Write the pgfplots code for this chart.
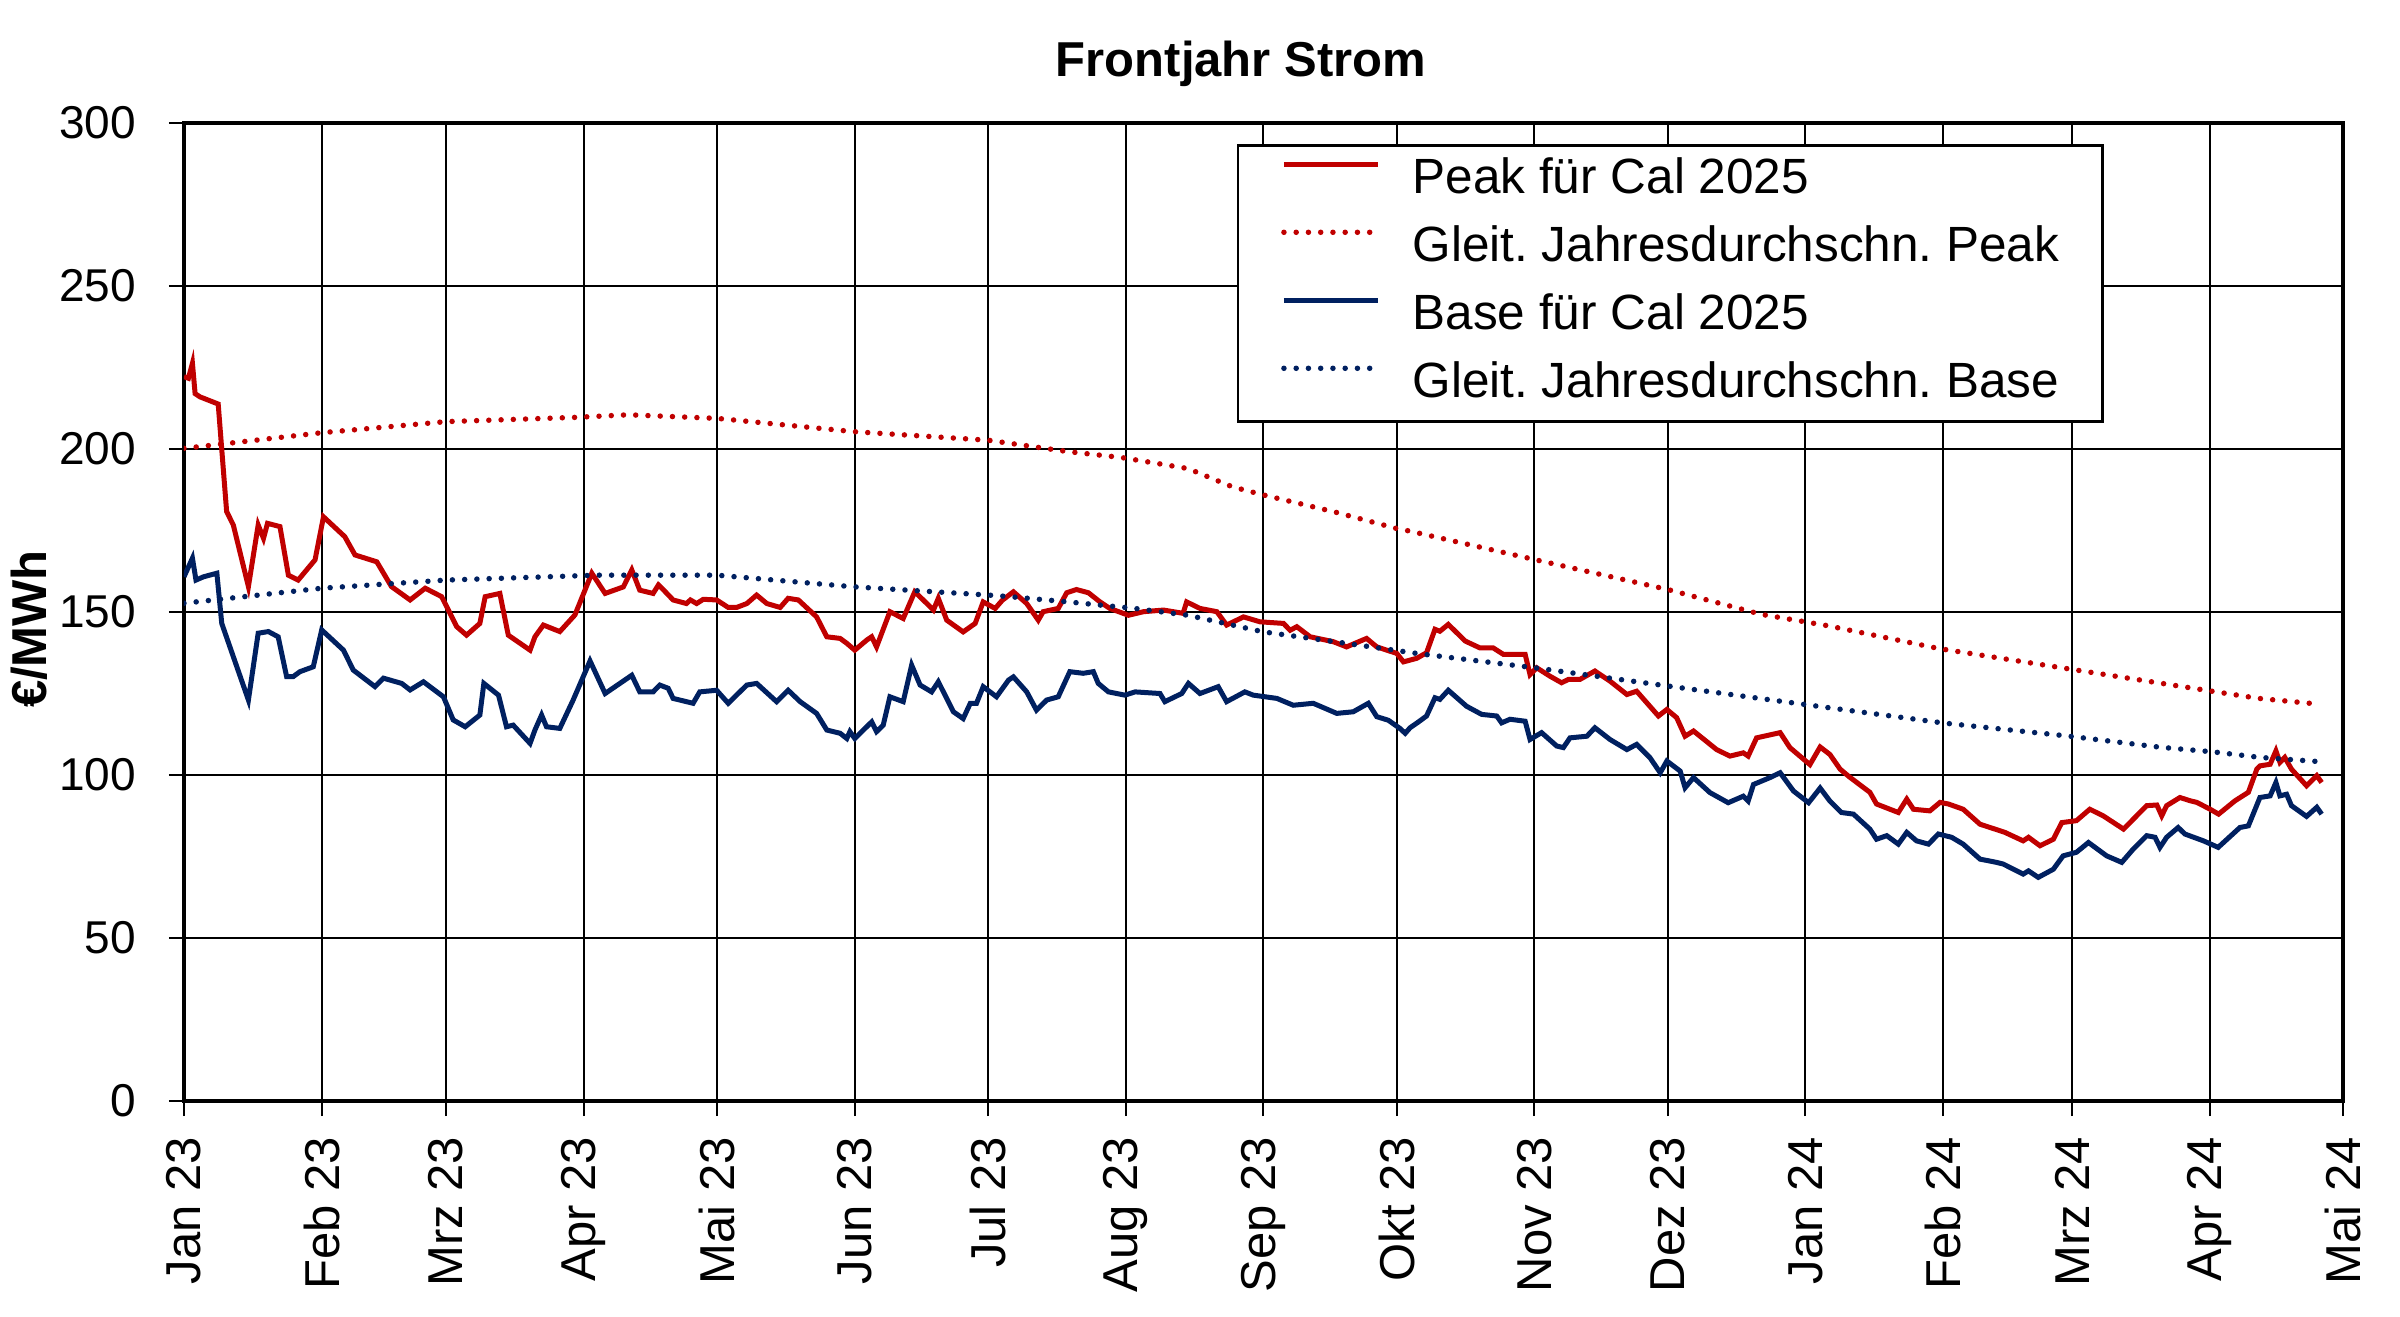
\documentclass[border=0pt]{standalone}
\usepackage{fontspec}
\setmainfont{Liberation Sans}
\usepackage{pgfplots}
\usepackage{pgfplotstable}
\pgfplotsset{compat=1.18}
\definecolor{peakred}{RGB}{192,0,0}
\definecolor{baseblue}{RGB}{0,32,96}
\frenchspacing

\pgfplotstableread{
d v
0 222.2
1 221.7
1.9 226.3
2.5 217
3.6 216
7.7 213.8
9.6 180.8
11.1 176.7
14.5 157.8
16.7 176.7
17.9 172.6
18.8 177.2
21.6 176.2
23.5 161.3
25.7 159.8
29.5 166
31.4 179.2
36.2 173.1
38.5 167.5
43.4 165.4
46.7 157.8
50.9 153.7
54.3 157.3
58 154.7
61.4 145.5
63.6 142.9
66.6 146.5
67.8 154.7
71.1 155.7
73 142.9
77.9 138.3
79 142.4
80.9 146
84.6 144
88 149.1
91.8 161.9
94.8 155.7
98.9 157.7
100.8 162.9
102.6 156.7
105.6 155.7
106.8 158.3
108 156.7
110.1 153.7
113.1 152.6
114 153.7
115.4 152.6
116.9 153.9
119.9 153.7
122.5 151.4
124.4 151.4
126.7 152.6
128.9 155.2
131.2 152.6
134.2 151.4
136 154.2
138.3 153.7
142.4 148.5
144.7 142.4
147.7 141.9
149.2 140.4
151 138.3
153.7 141.4
154.8 142.4
155.9 139.3
158.9 150.1
161.9 148
164.5 156.2
166.4 153.7
168.7 150.6
169.8 154.2
171.7 147.5
175.4 143.9
178.1 146.5
179.9 153.1
182.6 151.1
184.2 153.6
186.7 156.2
189.7 152.6
192.3 147.5
193.4 150.1
196.8 151.1
198.7 155.9
200.9 156.9
203.6 155.9
206.2 153.1
208.4 151.1
212.6 149
216 150.1
220.5 150.6
224.9 149.6
225.7 153.1
228.7 151.1
232.5 150.1
234.7 146
238.5 148.5
242.2 147
247.5 146.5
249 144.4
250.5 145.5
253.5 142.4
258.7 140.9
261.7 139.3
266.2 141.9
268.5 139.3
273 137.3
274.5 134.7
277.5 135.8
279.7 137.5
281.6 144.7
282.7 144.1
284.6 146.2
288.4 141.1
291.7 139
294.7 139
297 137
301.9 137
303 130.8
304.5 132.9
307.5 130.3
310.1 128.3
311.6 129.3
314.2 129.3
317.6 131.9
321 128.8
324.8 124.7
327 125.7
331.9 118.1
333.8 120.1
336 117.6
337.9 111.9
339.8 113.5
345 107.8
348 105.8
351 106.8
352.1 105.8
354 111.4
359.3 113
361.5 108.4
366 103.2
368.3 108.6
370.5 106.3
372.8 101.8
375 99.3
379.5 94.7
381 91.1
385.9 88.5
387.8 92.6
389.3 89.5
393 89
395.3 91.6
397.2 91.1
400.5 89.5
404.3 84.9
408.8 82.9
409.9 82.4
414 79.8
415.2 80.9
417.8 78.3
420.8 80.3
422.7 85.4
426 86
429 89.5
432 87.5
436.6 83.4
439.2 87
441.8 90.6
444.1 90.8
445.2 87.5
446.3 90.6
449.3 93.1
451.6 92.1
453.1 91.6
456.1 89.5
458 88
461.7 92.1
464.7 94.7
466.6 101.8
467.3 102.8
469.6 103.3
470.9 107.4
471.8 103.9
472.9 105.4
474.4 101.8
477.8 96.7
480.1 99.8
481.2 97.7
}\peak

\pgfplotstableread{
d v
0 160.8
1.9 166.5
2.7 159.8
4.4 160.8
7.4 161.9
8.5 146.5
14.5 123
16.7 143.5
19 144
21.2 142.4
23.1 130.2
24.6 130.2
26.1 131.7
29.1 133.2
31 144.5
35.9 138.3
38.1 132.2
43 127.1
44.9 129.7
49 128.1
50.9 126.1
53.9 128.6
58.4 124
60.6 116.9
63.3 114.8
66.6 118.4
67.5 128.1
70.8 124.5
72.6 114.8
74.1 115.3
77.9 109.7
79 113.8
80.5 118.4
81.6 114.8
84.6 114.3
87.6 123
91.4 135
94.8 125
100.8 130.6
102.6 125.5
105.6 125.5
107.1 127.6
109 126.6
110.1 123.5
113.1 122.5
114.6 122
116.1 125.5
119.9 126
122.5 122
126.7 127.6
128.9 128.1
133.4 122.5
136 126
138.7 122.5
142.4 118.9
144.7 113.8
147.7 112.8
149.2 111.2
149.9 113.3
151 111.2
154.8 116.3
155.9 113.3
157.4 115.3
158.9 124
161.9 122.5
163.8 133.7
165.7 127.6
168.3 125.5
169.8 128.6
173.2 119.4
175.4 117.3
177 122
178.4 122
179.9 127.1
182.9 124
185.6 129.1
186.7 130.1
189.7 125.5
191.9 119.9
194.2 123
196.8 124
199.4 131.7
202.4 131.2
204.7 131.7
205.8 128.1
208.1 125.5
211.8 124.5
214.1 125.5
219.7 125
220.8 122.5
224.6 125
226.1 128.1
228.7 125
232.8 127.1
234.7 122.5
238.8 125.5
240.7 124.5
246 123.5
249.7 121.4
254.2 122
259.5 118.9
263.2 119.4
266.6 122
268.5 117.9
271.1 116.8
273.7 114.3
274.9 112.8
276 114.5
277.9 116.3
279.7 118.1
281.6 123.7
282.7 123.2
284.6 126
288.7 121.1
292.1 118.6
295.5 118.1
296.6 116
298.5 117.1
301.9 116.5
303 110.9
305.6 113
309 108.9
310.5 108.4
312 111.4
315.8 111.9
317.6 114.5
321 110.9
324.8 107.8
327 109.4
330 105.3
332.3 100.7
333.8 104.3
336.8 101.2
337.9 96.1
339.8 99.2
343.5 94.6
347.6 91.5
351 93.5
352.1 92
353.3 97.1
357 99.2
359.3 100.7
362.3 95.1
365.7 91.5
367.5 94.6
368.3 96
370.5 92
373.1 88.5
375.8 88
379.5 83.4
381 80.3
383.3 81.4
385.9 78.8
387.8 82.4
390 79.8
392.7 78.8
394.9 81.9
397.9 80.9
400.5 78.8
404.3 74.2
408 73.2
409.5 72.7
414 69.6
415.2 70.6
417.4 68.6
420.8 71.1
423 75.2
426 76.3
428.7 79.3
432.8 75.2
436.2 73.2
438.8 77.3
441.8 81.4
443.7 80.9
444.8 77.8
446.3 80.9
448.9 83.9
450.4 81.9
454.6 79.8
457.9 77.8
462.8 83.9
464.7 84.4
467.3 93.1
469.6 93.6
470.9 97.7
471.8 93.6
473.3 94.1
474.4 90.6
477.8 87.3
480.1 90.1
481.2 88
}\base

\pgfplotstableread{
d v
0 200.2
31 205
59 208.4
88 209.7
100 210.5
120 209.4
151 205.3
181 202.7
199 199.2
211 197.4
226 194
236 188.4
243 185.9
259 180.7
273 175.6
276 174.8
304 166.1
334 156.9
355 149.3
370 145.8
395 138.8
425 132.4
457 125.6
467 123.5
478.6 122
}\peakavg

\pgfplotstableread{
d v
0 152.7
31 157.3
59 159.8
93 161.3
120 161.3
151 157.7
181 155.2
186 154.7
199 153.1
214 151.1
226 149
243 143.9
259 140.9
277.5 137.3
304 132.9
334 127.3
370.5 120.6
396.4 115.9
423.8 112
445 108.5
456.8 107.1
467.3 105.4
480.8 104.1
}\baseavg

\begin{document}
\begin{tikzpicture}
\begin{axis}[
  at={(0,0)}, anchor=south west,
  width=431.8pt, height=195.6pt, scale only axis,
  xmin=0, xmax=486, ymin=0, ymax=300,
  xtick={0,31,59,90,120,151,181,212,243,273,304,334,365,396,425,456,486},
  xticklabels={Jan 23,Feb 23,Mrz 23,Apr 23,Mai 23,Jun 23,Jul 23,Aug 23,Sep 23,Okt 23,Nov 23,Dez 23,Jan 24,Feb 24,Mrz 24,Apr 24,Mai 24},
  ytick={0,50,100,150,200,250,300},
  /pgf/number format/assume math mode=true,
  tick pos=left, tick align=outside,
  major tick length=3pt,
  every tick/.style={black, line width=0.4pt},
  grid=major,
  major grid style={black, line width=0.4pt},
  axis line style={black, line width=0.8pt},
  xticklabel style={font=\fontsize{9.8}{11}\selectfont, rotate=90, anchor=east, inner sep=0pt},
  yticklabel style={font=\fontsize{9.2}{11}\selectfont, inner sep=0pt},
  xticklabel shift=4pt,
  yticklabel shift=6.4pt,
  title={Frontjahr Strom},
  title style={font=\bfseries\fontsize{9.8}{11}\selectfont, at={(axis description cs:0.4896,1)}, anchor=base, yshift=3.4pt},
  ylabel={€/MWh},
  ylabel style={font=\bfseries\fontsize{9.8}{11}\selectfont, at={(axis description cs:-0.0635,0.4826)}, anchor=base},
  legend style={at={(rel axis cs:0.4877,0.9785)}, anchor=north west,
    draw=black, line width=0.5pt, inner xsep=8.6pt, inner ysep=2.5pt,
    row sep=4.2pt, column sep=6.4pt,
    font=\fontsize{9.9}{11}\selectfont,
    nodes={inner sep=0pt, text height=7.2pt, text depth=2.2pt}},
  legend cell align=left,
  legend image code/.code={\draw[#1] (0pt,3.4pt) -- (18.8pt,3.4pt);},
]
\addplot[peakred, line width=1pt] table[x=d,y=v] {\peak};
\addlegendentry{Peak für Cal 2025}
\addplot[peakred, line width=1.1pt, line cap=round, dash pattern=on 0pt off 2.45pt] table[x=d,y=v] {\peakavg};
\addlegendentry{Gleit. Jahresdurchschn. Peak}
\addplot[baseblue, line width=1pt] table[x=d,y=v] {\base};
\addlegendentry{Base für Cal 2025}
\addplot[baseblue, line width=1.1pt, line cap=round, dash pattern=on 0pt off 2.45pt] table[x=d,y=v] {\baseavg};
\addlegendentry{Gleit. Jahresdurchschn. Base}
\end{axis}
\pgfresetboundingbox
\path[use as bounding box] (-36.8pt,-43pt) rectangle (443.2pt,220.2pt);
\end{tikzpicture}
\end{document}
